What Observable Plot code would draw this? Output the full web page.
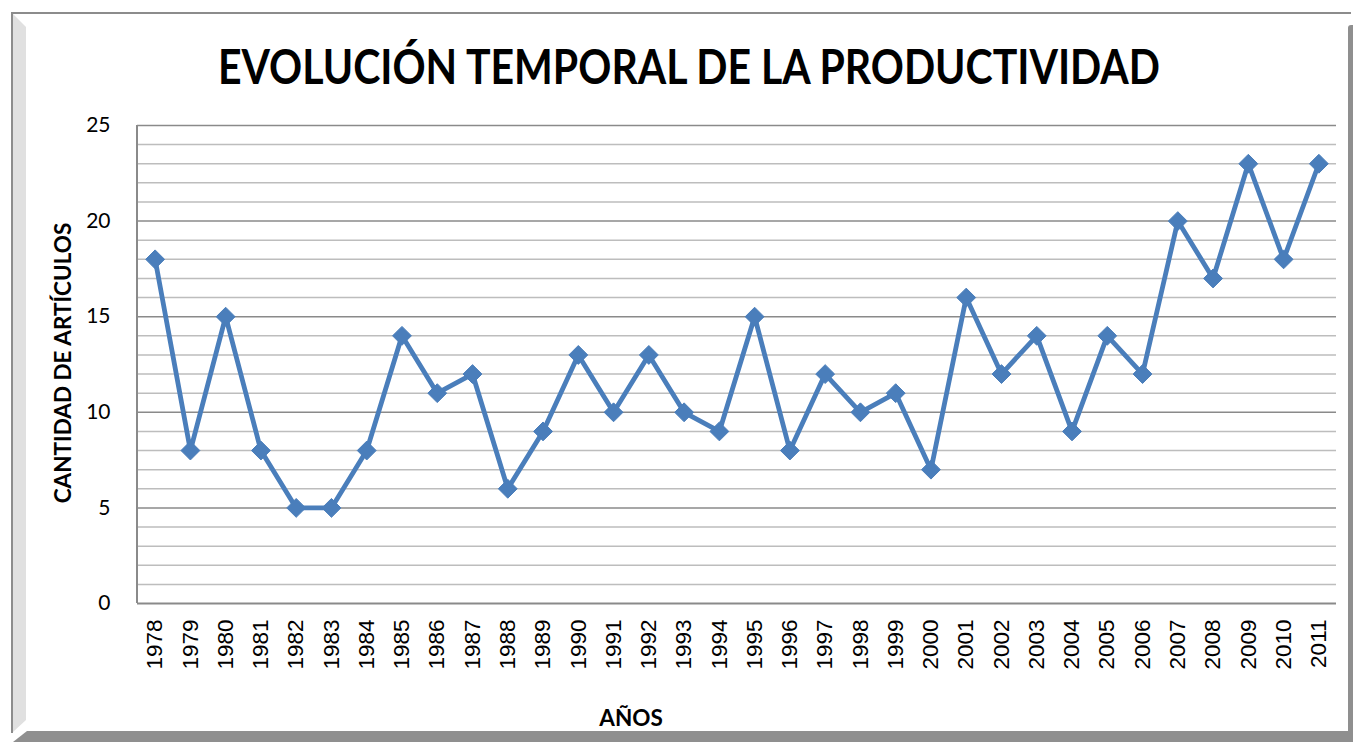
<!DOCTYPE html>
<html><head><meta charset="utf-8">
<script src="https://cdn.jsdelivr.net/npm/d3@7"></script>
<script src="https://cdn.jsdelivr.net/npm/@observablehq/plot@0.6"></script>
<style>
body{margin:0;background:#fff;width:1353px;height:742px;overflow:hidden;position:relative;font-family:Lato,"Open Sans",sans-serif;}
#frame{position:absolute;left:11px;top:12px;width:1340px;height:721px;border-top:2px solid #8c8c8c;border-left:2px solid #8c8c8c;box-sizing:border-box;}
#bevelL{position:absolute;left:13px;top:14px;width:13px;height:718px;background:#e0e0e0;clip-path:polygon(0 0,100% 13px,100% calc(100% - 12px),0 100%);}
#shadowB{position:absolute;left:13px;top:731px;width:1340px;height:11px;background:#8f8f8f;clip-path:polygon(14px 0,100% 0,100% 100%,0 100%);}
#shadowR{position:absolute;left:1348px;top:25px;width:5px;height:717px;background:#8f8f8f;border-top-left-radius:3px;}
#title{position:absolute;left:689px;top:37px;font-family:Lato,sans-serif;font-weight:700;font-size:48px;color:#000;white-space:nowrap;transform-origin:0 0;}
#chart{position:absolute;left:0;top:100px;}
#ylab{position:absolute;left:62px;top:363px;transform:translate(-50%,-50%) rotate(-90deg);font-weight:700;font-size:22.5px;white-space:nowrap;font-family:Lato,sans-serif;}
#xlab{position:absolute;left:631px;top:717px;transform:translate(-50%,-50%);font-weight:700;font-size:22.5px;font-family:Lato,sans-serif;}
</style></head>
<body>
<div id="frame"></div><div id="bevelL"></div><div id="shadowB"></div><div id="shadowR"></div>
<div id="title">EVOLUCIÓN TEMPORAL DE LA PRODUCTIVIDAD</div>
<div id="chart"></div>
<div id="ylab">CANTIDAD DE ARTÍCULOS</div>
<div id="xlab">AÑOS</div>
<script>
const years = ["1978","1979","1980","1981","1982","1983","1984","1985","1986","1987","1988","1989","1990","1991","1992","1993","1994","1995","1996","1997","1998","1999","2000","2001","2002","2003","2004","2005","2006","2007","2008","2009","2010","2011"];
const articles = [18,8,15,8,5,5,8,14,11,12,6,9,13,10,13,10,9,15,8,12,10,11,7,16,12,14,9,14,12,20,17,23,18,23];
const yTicks = [0,5,10,15,20,25];
const gridValues = d3.range(0,26);

const data = years.map((y,i)=>({year:y,value:articles[i]}));
const blue = "#4a7ebb";

const plot = Plot.plot({
  width:1353, height:642,
  marginLeft:137, marginRight:17, marginTop:25, marginBottom:139,
  x:{type:"point", domain:years, padding:0.5, round:false},
  y:{domain:[0,25]},
  marks:[
    Plot.ruleY(gridValues.filter(v=>v%5!==0), {stroke:"#bdbdbd", strokeWidth:1.5, strokeOpacity:1}),
    Plot.ruleY(gridValues.filter(v=>v%5===0 && v>0), {stroke:"#8a8a8a", strokeWidth:1.5, strokeOpacity:1}),
    Plot.ruleY([0], {stroke:"#8a8a8a", strokeWidth:2}),
    Plot.axisY({ticks:yTicks, tickSize:0, tickPadding:27, fontSize:21, fontFamily:"Lato, sans-serif", label:null}),
    Plot.axisX({tickRotate:-90, tickSize:0, tickPadding:16, fontSize:22.5, fontFamily:"Liberation Sans, sans-serif", label:null}),
    Plot.line(data, {x:"year", y:"value", stroke:blue, strokeWidth:4.8}),
    Plot.dot(data, {x:"year", y:"value", symbol:"diamond2", r:8.5, fill:blue, stroke:blue, strokeWidth:1})
  ]
});
d3.select(plot).append("line").attr("x1",137).attr("x2",137).attr("y1",25).attr("y2",503).attr("stroke","#8a8a8a").attr("stroke-width",2);
d3.select(plot).selectAll("text").attr("fill","#000");
document.getElementById("chart").appendChild(plot);
const t = document.getElementById("title");
const w = t.getBoundingClientRect().width;
const s = 942 / w;
t.style.transform = `scaleX(${s}) translateX(${-w/2}px)`;
</script>
</body></html>
